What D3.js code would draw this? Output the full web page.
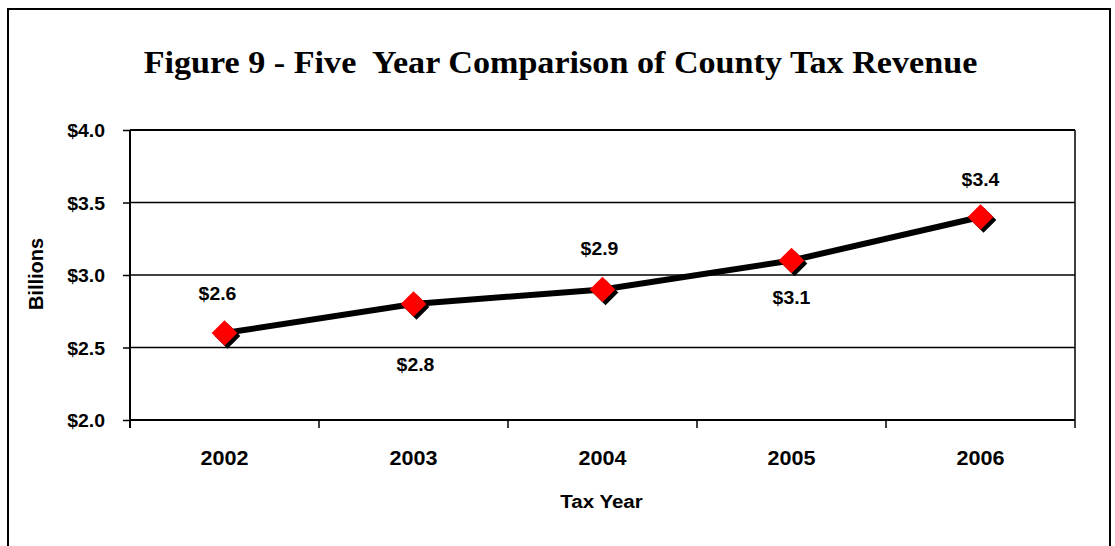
<!DOCTYPE html>
<html>
<head>
<meta charset="utf-8">
<script src="https://cdn.jsdelivr.net/npm/d3@7"></script>
<style>
  body { margin: 0; background: #fff; }
  text { font-family: "Liberation Sans", Arial, sans-serif; font-weight: bold; fill: #000; }
</style>
</head>
<body>
<div id="chart"></div>
<script>
// Data
const years = ["2002", "2003", "2004", "2005", "2006"];
const revenue = [2.6, 2.8, 2.9, 3.1, 3.4];
const yTicks = [2.0, 2.5, 3.0, 3.5, 4.0];
const titleText = "Figure 9 - Five  Year Comparison of County Tax Revenue";

const W = 1115, H = 546;
const margin = { top: 130, right: 40, bottom: 126, left: 130 };
const width = W - margin.left - margin.right;
const height = H - margin.top - margin.bottom;
const sx = 1.08; // text in the reference looks a bit wide

const svg = d3.select("#chart").append("svg")
    .attr("width", W)
    .attr("height", H);

// Outer frame (open at the bottom edge)
svg.append("path")
    .attr("d", `M8,${H + 2} V9 H1110 V${H + 2}`)
    .attr("fill", "none")
    .attr("stroke", "#000")
    .attr("stroke-width", 2);

// Title
const title = svg.append("text")
    .attr("text-anchor", "middle")
    .style("font-family", "'Liberation Serif', 'Times New Roman', serif")
    .style("font-size", "32px")
    .style("white-space", "pre")
    .attr("transform", `translate(${W / 2},73)`)
    .text(titleText);
const tw = title.node().getComputedTextLength();
title.attr("transform", `translate(${W / 2 + 3},73) scale(${834 / tw},1)`);

const g = svg.append("g")
    .attr("transform", `translate(${margin.left},${margin.top})`);

const x = d3.scaleBand()
    .domain(years)
    .range([0, width]);

const y = d3.scaleLinear()
    .domain([2, 4])
    .range([height, 0]);

// Gridlines
g.selectAll(".grid")
    .data(yTicks.filter(d => d > 2))
    .enter().append("line")
    .attr("x1", 0)
    .attr("x2", width)
    .attr("y1", d => y(d))
    .attr("y2", d => y(d))
    .attr("stroke", "#000")
    .attr("stroke-width", d => d === 4 ? 2 : 1.5);

// Right border of plot
g.append("line")
    .attr("x1", width).attr("x2", width)
    .attr("y1", 0).attr("y2", height)
    .attr("stroke", "#000")
    .attr("stroke-width", 1.5);

// Y axis
const yAxis = g.append("g")
    .call(d3.axisLeft(y).tickValues(yTicks).tickSize(7).tickPadding(0).tickFormat(d => "$" + d3.format(".1f")(d)));
yAxis.select(".domain").attr("stroke-width", 2).attr("d", `M0,${height + 8}V0`);
yAxis.selectAll(".tick line").attr("stroke-width", 1.5);
yAxis.selectAll(".tick text").remove();
yAxis.selectAll(".tick").append("text")
    .attr("text-anchor", "end")
    .attr("transform", `translate(-25,6.5) scale(${sx},1)`)
    .style("font-size", "18px")
    .text(d => "$" + d3.format(".1f")(d));

// X axis
const xAxis = g.append("g")
    .attr("transform", `translate(0,${height})`);
xAxis.append("line")
    .attr("x1", 0).attr("x2", width)
    .attr("stroke", "#000").attr("stroke-width", 2);
xAxis.selectAll(".xtick")
    .data(years.map(d => x(d)).concat([width]))
    .enter().append("line")
    .attr("x1", d => d).attr("x2", d => d)
    .attr("y1", 0).attr("y2", 8)
    .attr("stroke", "#000").attr("stroke-width", 1.5);
xAxis.selectAll(".xlabel")
    .data(years)
    .enter().append("text")
    .attr("text-anchor", "middle")
    .attr("transform", d => `translate(${x(d) + x.bandwidth() / 2},45) scale(${sx},1)`)
    .style("font-size", "20px")
    .text(d => d);

// Axis titles
svg.append("text")
    .attr("text-anchor", "middle")
    .attr("transform", `translate(${margin.left + width / 2 - 1},508) scale(${sx},1)`)
    .style("font-size", "19px")
    .text("Tax Year");

svg.append("text")
    .attr("text-anchor", "middle")
    .attr("transform", `translate(43,274) rotate(-90)`)
    .style("font-size", "20px")
    .text("Billions");

// Line with markers
const cx = d => x(d) + x.bandwidth() / 2;
const line = d3.line()
    .x((d, i) => cx(years[i]))
    .y(d => y(d));

g.append("path")
    .datum(revenue)
    .attr("d", line)
    .attr("fill", "none")
    .attr("stroke", "#000")
    .attr("stroke-width", 6);

const diamond = d3.symbol().type(d3.symbolSquare).size(330);

g.selectAll(".shadow")
    .data(revenue)
    .enter().append("path")
    .attr("d", diamond)
    .attr("fill", "#000")
    .attr("transform", (d, i) => `translate(${cx(years[i]) + 3},${y(d) + 3}) rotate(45)`);

g.selectAll(".marker")
    .data(revenue)
    .enter().append("path")
    .attr("d", diamond)
    .attr("fill", "#ff0000")
    .attr("transform", (d, i) => `translate(${cx(years[i]) + 0},${y(d)}) rotate(45)`);

// Data labels, alternately above and below
const labelDy = [-33, 67, -35, 43, -31];
const labelDx = [-7, 2, -3, 0, 0];
g.selectAll(".dlabel")
    .data(revenue)
    .enter().append("text")
    .attr("text-anchor", "middle")
    .attr("transform", (d, i) => `translate(${cx(years[i]) + labelDx[i]},${y(d) + labelDy[i]}) scale(${sx},1)`)
    .style("font-size", "18px")
    .text(d => "$" + d3.format(".1f")(d));
</script>
</body>
</html>
